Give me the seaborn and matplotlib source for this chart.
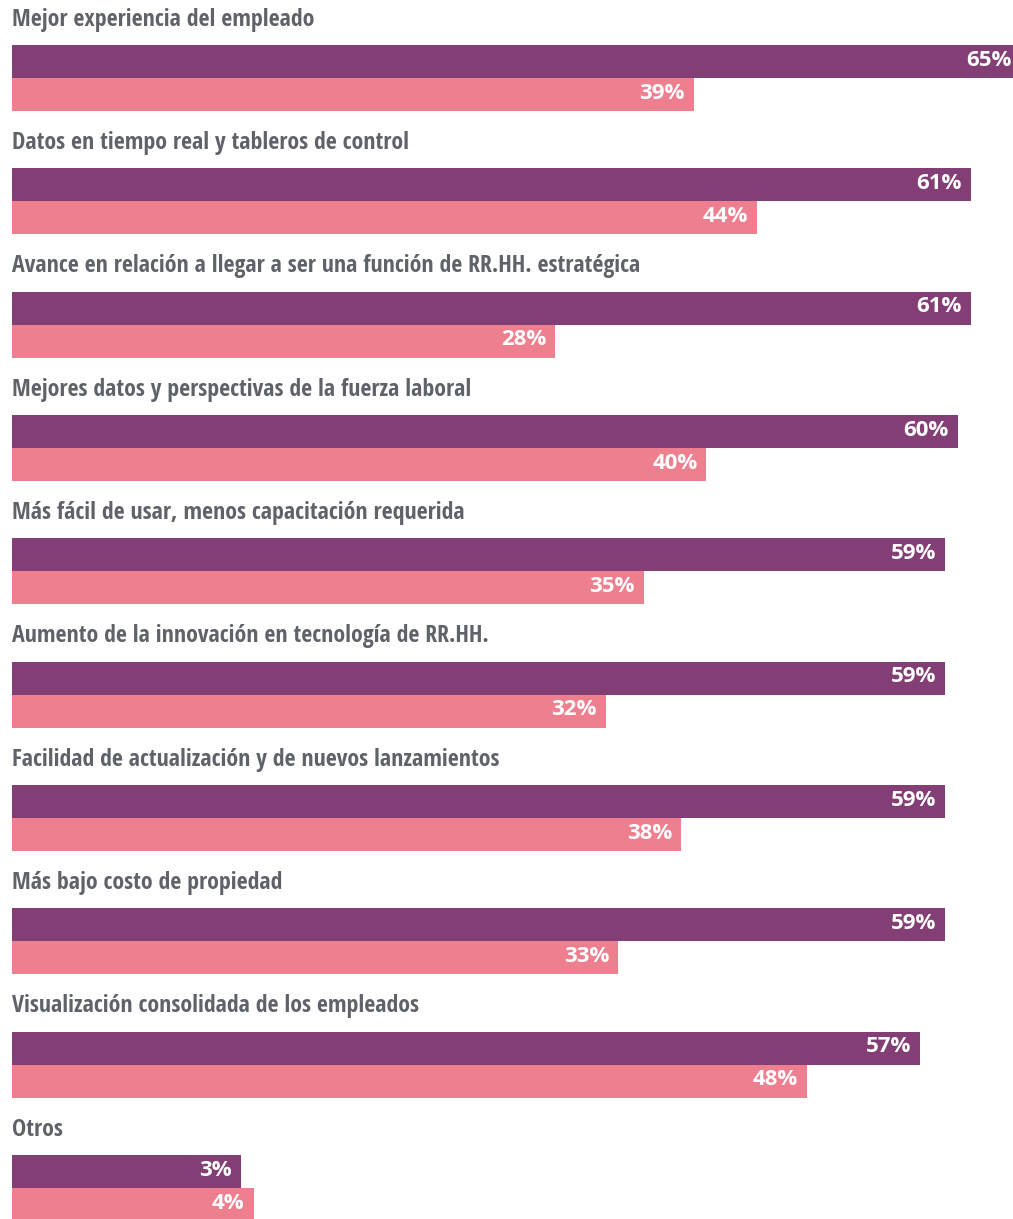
import pandas as pd
import seaborn as sns
import matplotlib.pyplot as plt

# categories (top to bottom) and the two series
categories = [
    "Mejor experiencia del empleado",
    "Datos en tiempo real y tableros de control",
    "Avance en relación a llegar a ser una función de RR.HH. estratégica",
    "Mejores datos y perspectivas de la fuerza laboral",
    "Más fácil de usar, menos capacitación requerida",
    "Aumento de la innovación en tecnología de RR.HH.",
    "Facilidad de actualización y de nuevos lanzamientos",
    "Más bajo costo de propiedad",
    "Visualización consolidada de los empleados",
    "Otros",
]
serie_a = [65, 61, 61, 60, 59, 59, 59, 59, 57, 3]
serie_b = [39, 44, 28, 40, 35, 32, 38, 33, 48, 4]
series_names = ["A", "B"]

PURPLE = "#833e76"
PINK = "#ee7f8e"
GREY = "#5f6369"
# bars start a bit left of zero (labels sit inside every bar)
PAD = 15.2

LABEL_FONT = ["Open Sans Condensed", "Roboto Condensed", "Fira Sans Condensed",
              "IBM Plex Sans Condensed", "DejaVu Sans"]
VALUE_FONT = ["Open Sans", "DejaVu Sans"]

df = pd.DataFrame({
    "cat": categories * 2,
    "serie": [series_names[0]] * len(categories) + [series_names[1]] * len(categories),
    "valor": serie_a + serie_b,
})
df["largo"] = df["valor"] + PAD

sns.set_theme(style="white")
plt.rcParams["font.family"] = VALUE_FONT

fig = plt.figure(figsize=(10.13, 12.19), dpi=100)
ax = fig.add_axes([0, 0, 1, 1])

sns.barplot(data=df, x="largo", y="cat", hue="serie", order=categories,
            hue_order=series_names, palette=[PURPLE, PINK], saturation=1,
            width=0.535, dodge=True, legend=False, orient="h", ax=ax,
            linewidth=0)

ax.set_xlim(-0.954, 79.57)
ax.set_ylim(9.252, -0.632)
ax.axis("off")

# value labels inside the bar ends
for cont, vals in zip(ax.containers, [serie_a, serie_b]):
    for bar, v in zip(cont.patches, vals):
        ax.annotate(f"{v}%", (bar.get_x() + bar.get_width(), bar.get_y() + bar.get_height() / 2),
                    xytext=(-6.5, 1), textcoords="offset points", ha="right",
                    va="center", color="white", fontsize=16,
                    fontweight="bold", family=VALUE_FONT,
                    annotation_clip=False)

# category titles above each pair of bars
for i, c in enumerate(categories):
    ax.text(-0.954 + 12 / 12.58, i - 0.425, c, ha="left", va="baseline",
            color=GREY, fontsize=17.2, fontweight="bold", family=LABEL_FONT)

fig.savefig("out.png", dpi=100)
